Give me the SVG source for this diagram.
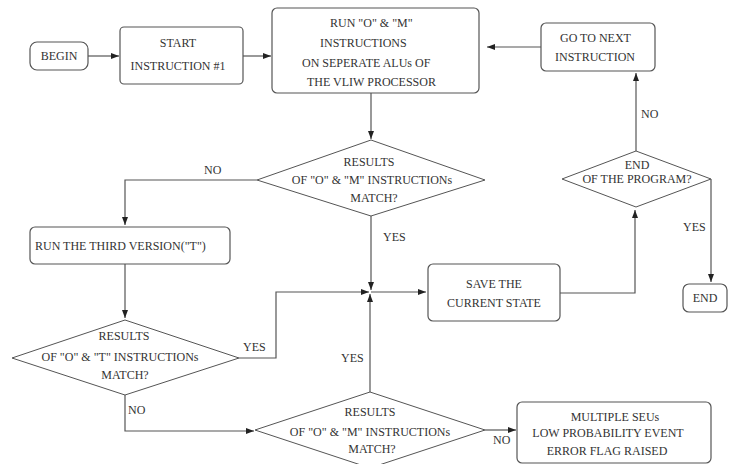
<svg xmlns="http://www.w3.org/2000/svg" width="731" height="464" viewBox="0 0 731 464" font-family="'Liberation Serif', 'Times New Roman', 'DejaVu Serif', serif">
  <defs>
    <marker id="arrow" markerWidth="9" markerHeight="6" refX="8" refY="3" orient="auto" markerUnits="userSpaceOnUse">
      <path d="M0,0 L8,3 L0,6 z" fill="#222"/>
    </marker>
    <style>
      .box { fill: #fff; stroke: #555; stroke-width: 1.2; }
      .dia { fill: #fff; stroke: #555; stroke-width: 1; }
      text { font-family: 'Liberation Serif', 'Times New Roman', 'DejaVu Serif', serif; font-size: 12px; fill: #333; }
      .c { text-anchor: middle; }
      .wire { fill: none; stroke: #555; stroke-width: 1.2; }
      .arr { marker-end: url(#arrow); }
    </style>
  </defs>
  <rect width="731" height="464" fill="#fff"/>

  <!-- connectors -->
  <g id="connectors">
    <path class="wire arr" d="M88,56 H119"/>
    <path class="wire arr" d="M243,56 H271"/>
    <path class="wire arr" d="M541,47 H487"/>
    <path class="wire arr" d="M371,93 V139"/>
    <path class="wire arr" d="M257,180 H125 V225"/>
    <path class="wire arr" d="M125,264 V318"/>
    <path class="wire arr" d="M239,358 H276 V292 H369"/>
    <path class="wire arr" d="M125,395 V431 H254"/>
    <path class="wire arr" d="M371,216 V290"/>
    <path class="wire arr" d="M370,392 V294"/>
    <path class="wire arr" d="M371,292 H426"/>
    <path class="wire arr" d="M560,293 H635 V210"/>
    <path class="wire arr" d="M636,151 V73"/>
    <path class="wire arr" d="M711,179 V282"/>
    <path class="wire arr" d="M485,430 H516"/>
    <text x="204" y="174">NO</text>
    <text x="383" y="241">YES</text>
    <text x="243" y="351">YES</text>
    <text x="128" y="414">NO</text>
    <text x="341" y="362">YES</text>
    <text x="493" y="444">NO</text>
    <text x="641" y="118">NO</text>
    <text x="683" y="231">YES</text>
  </g>

  <g id="begin">
    <rect class="box" x="30" y="42" width="58" height="28" rx="7"/>
    <text class="c" x="59" y="60">BEGIN</text>
  </g>

  <g id="start">
    <rect class="box" x="120" y="27" width="123" height="57" rx="4"/>
    <text class="c" x="178" y="47">START</text>
    <text class="c" x="178" y="70">INSTRUCTION #1</text>
  </g>

  <g id="run-om">
    <rect class="box" x="272" y="8" width="207" height="85" rx="5"/>
    <text x="330" y="27">RUN "O" &amp; "M"</text>
    <text x="320" y="47">INSTRUCTIONS</text>
    <text x="302" y="67">ON SEPERATE ALUs OF</text>
    <text x="307" y="86">THE VLIW PROCESSOR</text>
  </g>

  <g id="next">
    <rect class="box" x="541" y="23" width="114" height="48" rx="5"/>
    <text x="560" y="42">GO TO NEXT</text>
    <text x="555" y="61">INSTRUCTION</text>
  </g>

  <g id="check-om">
    <polygon class="dia" points="371,140 485,180 371,216 257,180"/>
    <text class="c" x="369" y="166">RESULTS</text>
    <text class="c" x="372" y="184">OF "O" &amp; "M" INSTRUCTIONs</text>
    <text class="c" x="374" y="202">MATCH?</text>
  </g>

  <g id="run-t">
    <rect class="box" x="30" y="227" width="200" height="37" rx="5"/>
    <text x="35" y="250">RUN THE THIRD VERSION("T")</text>
  </g>

  <g id="check-ot">
    <polygon class="dia" points="125,320 239,358 125,395 12,358"/>
    <text class="c" x="124" y="340">RESULTS</text>
    <text class="c" x="120" y="361">OF "O" &amp; "T" INSTRUCTIONs</text>
    <text class="c" x="125" y="379">MATCH?</text>
  </g>

  <g id="save">
    <rect class="box" x="428" y="264" width="132" height="57" rx="5"/>
    <text class="c" x="494" y="288">SAVE THE</text>
    <text class="c" x="494" y="307">CURRENT STATE</text>
  </g>

  <g id="end-check">
    <polygon class="dia" points="636,151 711,179 636,207 562,179"/>
    <text class="c" x="637" y="169">END</text>
    <text class="c" x="637" y="183">OF THE PROGRAM?</text>
  </g>

  <g id="end">
    <rect class="box" x="683" y="284" width="44" height="28" rx="6"/>
    <text class="c" x="705" y="302">END</text>
  </g>

  <g id="check-om-2">
    <polygon class="dia" points="370,392 485,430 370,468 255,430"/>
    <text class="c" x="370" y="416">RESULTS</text>
    <text class="c" x="370" y="436">OF "O" &amp; "M" INSTRUCTIONs</text>
    <text class="c" x="372" y="453">MATCH?</text>
  </g>

  <g id="error">
    <rect class="box" x="517" y="402" width="194" height="61" rx="5"/>
    <text class="c" x="615" y="421">MULTIPLE SEUs</text>
    <text class="c" x="608" y="437">LOW PROBABILITY EVENT</text>
    <text class="c" x="607" y="455">ERROR FLAG RAISED</text>
  </g>
</svg>
